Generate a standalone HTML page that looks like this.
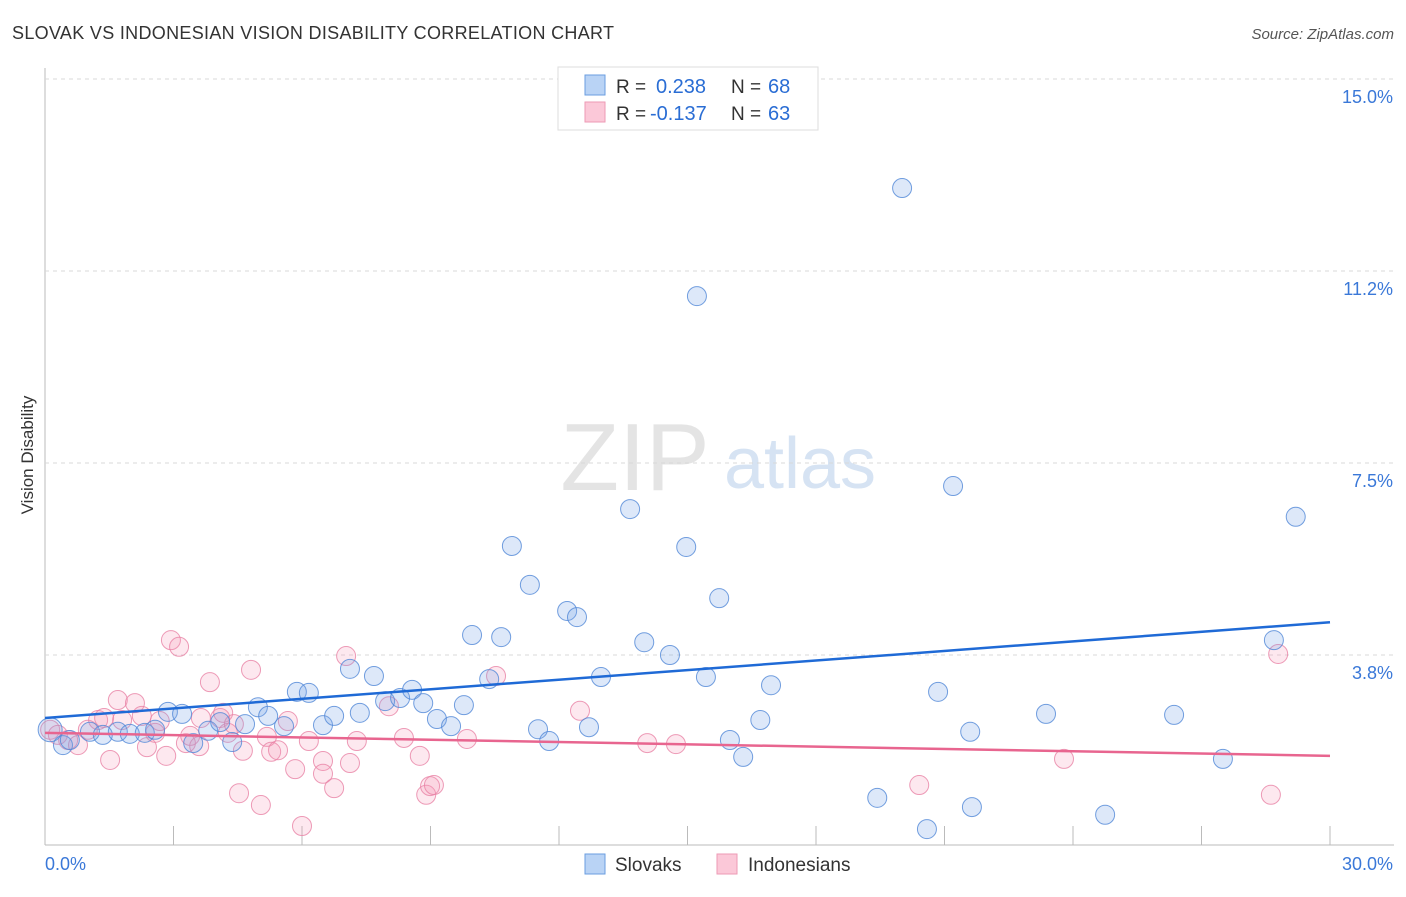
<!DOCTYPE html>
<html><head><meta charset="utf-8"><style>
body{margin:0;background:#fff;font-family:"Liberation Sans",sans-serif;}
svg text{font-family:"Liberation Sans",sans-serif;}
</style></head><body>
<svg id="c" width="1406" height="892">
<text x="12" y="39" font-size="18" fill="#333" textLength="602">SLOVAK VS INDONESIAN VISION DISABILITY CORRELATION CHART</text>
<text x="1394" y="39" font-size="15" fill="#555" font-style="italic" text-anchor="end">Source: ZipAtlas.com</text>
<text x="33" y="455" font-size="17" fill="#333" transform="rotate(-90 33 455)" text-anchor="middle">Vision Disability</text>
<g>
<text x="635" y="490" font-size="96" fill="#e4e4e4" font-family="Liberation Serif" text-anchor="middle">ZIP</text>
<text x="800" y="488" font-size="72" fill="#d6e3f3" text-anchor="middle">atlas</text>
</g>
<g id="grid"></g><g id="pts"></g><g id="lines"></g>
<g>
<rect x="558" y="67" width="260" height="63" fill="#fff" stroke="#ddd"/>
<rect x="585" y="75" width="20" height="20" fill="#b9d3f5" stroke="#6a9ee0"/>
<rect x="585" y="102" width="20" height="20" fill="#fbc8d8" stroke="#ee9ab5"/>
<text x="616" y="93" font-size="19" fill="#333">R =</text>
<text x="656" y="93" font-size="20" fill="#2a6dd4">0.238</text>
<text x="731" y="93" font-size="19" fill="#333">N =</text>
<text x="768" y="93" font-size="20" fill="#2a6dd4">68</text>
<text x="616" y="120" font-size="19" fill="#333">R =</text>
<text x="650" y="120" font-size="20" fill="#2a6dd4">-0.137</text>
<text x="731" y="120" font-size="19" fill="#333">N =</text>
<text x="768" y="120" font-size="20" fill="#2a6dd4">63</text>
</g>
<g>
<rect x="585" y="854" width="20" height="20" fill="#b9d3f5" stroke="#6a9ee0"/>
<text x="615" y="871" font-size="19" fill="#333">Slovaks</text>
<rect x="717" y="854" width="20" height="20" fill="#fbc8d8" stroke="#ee9ab5"/>
<text x="748" y="871" font-size="19" fill="#333">Indonesians</text>
</g>
</svg>
<script>
const xTicksPct=[0,3,6,9,12,15,18,21,24,27,30];
const yTicks=[3.75,7.5,11.25,15];
const yTickLabels=["3.8%","7.5%","11.2%","15.0%"];
const blueX=[0.12,0.42,0.58,1.05,1.35,1.70,1.98,2.33,2.57,2.87,3.20,3.46,3.81,4.09,4.37,4.67,4.97,5.21,5.58,5.88,6.16,6.49,6.75,7.12,7.35,7.68,7.94,8.29,8.57,8.83,9.15,9.48,9.78,9.97,10.37,10.65,10.90,11.32,11.51,11.77,12.19,12.42,12.70,12.98,13.66,13.99,14.59,14.97,15.22,15.43,15.74,15.99,16.30,16.70,16.95,19.43,20.01,20.59,20.85,21.20,21.60,21.64,23.37,24.75,26.36,27.50,28.69,29.20];
const blueY=[2.29,1.99,2.09,2.25,2.19,2.25,2.21,2.23,2.29,2.64,2.60,2.03,2.27,2.44,2.05,2.40,2.73,2.56,2.36,3.03,3.01,2.38,2.56,3.48,2.62,3.34,2.85,2.91,3.07,2.81,2.50,2.36,2.77,4.14,3.28,4.10,5.88,5.12,2.30,2.07,4.61,4.49,2.34,3.32,6.60,4.00,3.75,5.86,10.76,3.32,4.86,2.09,1.76,2.48,3.16,0.96,12.87,0.35,3.03,7.05,2.25,0.78,2.60,0.63,2.58,1.72,4.04,6.45];
const pinkX=[0.12,0.30,0.54,0.77,1.00,1.24,1.52,1.38,1.70,1.80,2.10,2.26,2.38,2.57,2.68,2.83,2.94,3.13,3.29,3.39,3.60,3.64,3.85,4.09,4.16,4.27,4.41,4.53,4.62,4.81,5.04,5.18,5.28,5.44,5.67,5.84,6.00,6.16,6.49,6.49,6.75,7.03,7.12,7.28,8.03,8.38,8.75,8.90,8.99,9.08,9.85,10.53,12.49,14.06,14.73,20.41,23.79,28.62,28.79];
const pinkY=[2.29,2.19,2.09,1.99,2.29,2.48,1.70,2.52,2.87,2.48,2.81,2.56,1.95,2.23,2.46,1.78,4.04,3.91,2.03,2.17,1.97,2.52,3.22,2.52,2.62,2.23,2.40,1.05,1.88,3.46,0.82,2.15,1.86,1.89,2.46,1.52,0.41,2.07,1.68,1.43,1.15,3.73,1.64,2.07,2.75,2.13,1.78,1.02,1.19,1.21,2.11,3.34,2.66,2.03,2.01,1.21,1.72,1.02,3.77];
const blueTrend=[2.52,4.39];
const pinkTrend=[2.23,1.78];
const X=v=>45+v/30*1285, Y=v=>847-v*51.2;
const NS="http://www.w3.org/2000/svg";
function mk(t,a,p){const e=document.createElementNS(NS,t);for(const k in a)e.setAttribute(k,a[k]);p.appendChild(e);return e;}
const g=document.getElementById('grid');
let ax=mk('line',{x1:45,y1:68,x2:45,y2:845,stroke:'#bbb'},g);


let bx=mk('line',{x1:45,y1:845,x2:1394,y2:845,stroke:'#bbb'},g);


yTicks.forEach((v,i)=>{
 const l=mk('line',{x1:45,y1:Y(v),x2:1394,y2:Y(v),stroke:'#d8d8d8','stroke-dasharray':'4,4'},g);
 
 
 const t=mk('text',{x:1393,y:Y(v)+24,'font-size':18,fill:'#3a78d8','text-anchor':'end'},g);
 t.textContent=yTickLabels[i];
 
 
});
xTicksPct.forEach(v=>{
 const l=mk('line',{x1:X(v),y1:826,x2:X(v),y2:845,stroke:'#bbb'},g);
 
 
});
const t0=mk('text',{x:45,y:870,'font-size':18,fill:'#3a78d8'},g);t0.textContent='0.0%';


const t1=mk('text',{x:1393,y:870,'font-size':18,fill:'#3a78d8','text-anchor':'end'},g);t1.textContent='30.0%';


const p=document.getElementById('pts');
pinkX.forEach((x,i)=>{const c=mk('circle',{cx:X(x),cy:Y(pinkY[i]),r:9.5,fill:'rgba(245,150,180,0.22)',stroke:'rgba(232,130,165,0.8)','stroke-width':1},p);
 
 });
blueX.forEach((x,i)=>{const c=mk('circle',{cx:X(x),cy:Y(blueY[i]),r:i==0?12:9.5,fill:'rgba(120,165,230,0.25)',stroke:'rgba(80,135,215,0.8)','stroke-width':1},p);
 
 });
const L=document.getElementById('lines');
const bl=mk('line',{x1:X(0),y1:Y(blueTrend[0]),x2:X(30),y2:Y(blueTrend[1]),stroke:'#1f6ad6','stroke-width':2.5},L);


const pl=mk('line',{x1:X(0),y1:Y(pinkTrend[0]),x2:X(30),y2:Y(pinkTrend[1]),stroke:'#e8658f','stroke-width':2.5},L);


</script>
</body></html>
